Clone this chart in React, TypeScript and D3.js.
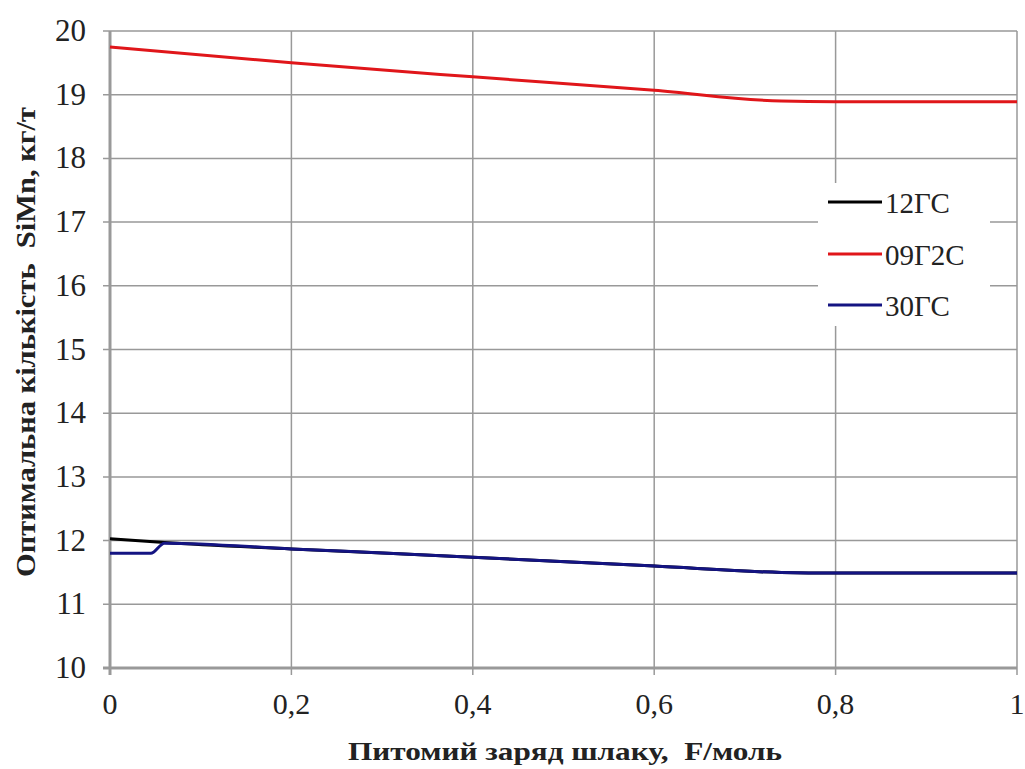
import React from "react";
import * as d3 from "d3";

const xValues12 = [0, 0.06, 0.2, 0.4, 0.6, 0.74, 0.8, 1.0];
const series12 = [12.03, 11.97, 11.87, 11.74, 11.6, 11.5, 11.49, 11.49];
const xValues09 = [0, 0.2, 0.4, 0.6, 0.74, 0.8, 1.0];
const series09 = [19.75, 19.5, 19.28, 19.07, 18.9, 18.89, 18.89];
const xValues30 = [0, 0.045, 0.06, 0.2, 0.4, 0.6, 0.74, 0.8, 1.0];
const series30 = [11.8, 11.8, 11.96, 11.87, 11.74, 11.6, 11.5, 11.49, 11.49];
const xTicks = [0, 0.2, 0.4, 0.6, 0.8, 1];
const xTickLabels = ["0", "0,2", "0,4", "0,6", "0,8", "1"];
const yTicks = [10, 11, 12, 13, 14, 15, 16, 17, 18, 19, 20];
const seriesNames = ["12ГС", "09Г2С", "30ГС"];
const seriesColors = ["#000000", "#e0161a", "#141482"];

export default function App() {
  const W = 1025, H = 769;
  const left = 110, right = 1017, top = 31, bottom = 668;
  const x = d3.scaleLinear().domain([0, 1]).range([left, right]);
  const y = d3.scaleLinear().domain([10, 20]).range([bottom, top]);
  const line = d3.line<[number, number]>().x(d => x(d[0])).y(d => y(d[1])).curve(d3.curveMonotoneX);
  const data = [
    xValues12.map((v, i) => [v, series12[i]] as [number, number]),
    xValues09.map((v, i) => [v, series09[i]] as [number, number]),
    xValues30.map((v, i) => [v, series30[i]] as [number, number]),
  ];
  const font = "'Liberation Serif', 'Times New Roman', serif";
  const legendYs = [202, 254, 305];
  return (
    <svg width={W} height={H} style={{ position: "absolute", left: 0, top: 0, background: "#fff" }} fontFamily={font}>
      {yTicks.map(t => (
        <g key={"y" + t}>
          <line x1={left - 7} x2={right} y1={y(t)} y2={y(t)} stroke="#999" strokeWidth={t === 10 ? 3 : 1.5} />
          <text x={86} y={y(t) + 10} textAnchor="end" fontSize={31} fill="#222">{t}</text>
        </g>
      ))}
      {xTicks.map((t, i) => (
        <g key={"x" + t}>
          <line x1={x(t)} x2={x(t)} y1={top} y2={bottom + 7} stroke="#999" strokeWidth={t === 0 ? 3 : 1.5} />
          <text x={x(t)} y={714} textAnchor="middle" fontSize={30} fill="#222">{xTickLabels[i]}</text>
        </g>
      ))}
      <rect x={818} y={183} width={172} height={143} fill="#fff" />
      {data.map((d, i) => (
        <path key={"s" + i} d={line(d) || ""} fill="none" stroke={seriesColors[i]} strokeWidth={3} />
      ))}
      {seriesNames.map((n, i) => (
        <g key={"l" + n}>
          <line x1={828} x2={882} y1={legendYs[i]} y2={legendYs[i]} stroke={seriesColors[i]} strokeWidth={3} />
          <text x={885} y={legendYs[i] + 11} fontSize={29} fill="#222">{n}</text>
        </g>
      ))}
      <text x={565} y={760} textAnchor="middle" fontSize={26} fontWeight="bold" fill="#222" textLength={434} lengthAdjust="spacingAndGlyphs" style={{ whiteSpace: "pre" }}>Питомий заряд шлаку,  F/моль</text>
      <text transform={`translate(35,342) rotate(-90)`} textAnchor="middle" fontSize={28} fontWeight="bold" fill="#222" textLength={470} lengthAdjust="spacingAndGlyphs" style={{ whiteSpace: "pre" }}>Оптимальна кількість  SiMn, кг/т</text>
    </svg>
  );
}
